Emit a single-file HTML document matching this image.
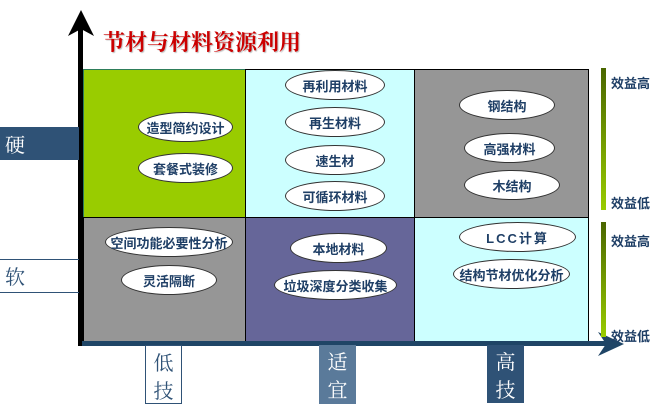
<!DOCTYPE html>
<html><head><meta charset="utf-8"><style>
html,body{margin:0;padding:0;background:#fff;width:665px;height:413px;overflow:hidden;position:relative;font-family:"Liberation Sans","Noto Sans CJK SC",sans-serif}
div{position:absolute;box-sizing:border-box}
.c{border:1px solid #000}
.e{background:#fff;border:1.5px solid #333;border-radius:50%;color:#1f3f66;font-weight:bold;font-size:13px;display:flex;align-items:center;justify-content:center;white-space:nowrap;height:30px}
.bl{font-family:"Noto Serif CJK SC",serif;font-size:20px;line-height:28px;text-align:center}
.r{color:#1f3f66;font-weight:bold;font-size:13px;left:611px}
</style></head><body>
<div class="c" style="left:83px;top:69px;width:163px;height:149px;background:#99cc00;border-color:#2e7d5a"></div>
<div class="c" style="left:245px;top:69px;width:170px;height:149px;background:#ccffff"></div>
<div class="c" style="left:414px;top:69px;width:175px;height:149px;background:#969696"></div>
<div class="c" style="left:83px;top:217px;width:163px;height:126px;background:#969696"></div>
<div class="c" style="left:245px;top:217px;width:170px;height:126px;background:#666699"></div>
<div class="c" style="left:414px;top:217px;width:175px;height:126px;background:#ccffff"></div>

<div style="left:78px;top:28px;width:5px;height:318px;background:#000"></div>
<svg style="position:absolute;left:68px;top:10px" width="26" height="30"><polygon points="13,0 26,26 13,19 0,26" fill="#000"/></svg>
<div style="left:82px;top:341px;width:525px;height:5px;background:#1f4566"></div>
<svg style="position:absolute;left:598px;top:332px" width="26" height="24"><polygon points="26,12 0,0 8,12 0,24" fill="#1f4566"/></svg>

<div style="left:103px;top:27px;color:#cc0000;font-size:22px;font-family:'Noto Serif CJK SC',serif;font-weight:bold;text-shadow:1px 1px 1px #bbb;white-space:nowrap;line-height:30px">节材与材料资源利用</div>

<div class="e" style="left:138px;top:112px;width:95px">造型简约设计</div>
<div class="e" style="left:138px;top:153px;width:95px">套餐式装修</div>
<div class="e" style="left:285px;top:70px;width:100px">再利用材料</div>
<div class="e" style="left:285px;top:107px;width:100px">再生材料</div>
<div class="e" style="left:285px;top:145px;width:100px">速生材</div>
<div class="e" style="left:285px;top:181px;width:100px">可循环材料</div>
<div class="e" style="left:459px;top:90px;width:96px">钢结构</div>
<div class="e" style="left:464px;top:133px;width:91px">高强材料</div>
<div class="e" style="left:464px;top:170px;width:96px">木结构</div>
<div class="e" style="left:105px;top:227px;width:128px">空间功能必要性分析</div>
<div class="e" style="left:121px;top:265px;width:96px">灵活隔断</div>
<div class="e" style="left:290px;top:233px;width:97px">本地材料</div>
<div class="e" style="left:274px;top:270px;width:123px">垃圾深度分类收集</div>
<div class="e" style="left:459px;top:222px;width:117px;letter-spacing:2px">LCC计算</div>
<div class="e" style="left:453px;top:259px;width:117px">结构节材优化分析</div>

<div class="bl" style="left:0;top:127px;width:79px;height:33px;background:#2f5276;color:#fff;text-align:left;padding-left:5px;line-height:33px">硬</div>
<div class="bl" style="left:0;top:259px;width:79px;height:34px;border-top:1.5px solid #2f5276;border-bottom:1.5px solid #2f5276;color:#2f5276;text-align:left;padding-left:5px;line-height:31px">软</div>
<div class="bl" style="left:145px;top:345px;width:37px;height:59px;border:1.5px solid #2f5276;color:#2f5276;padding-top:2px">低<br>技</div>
<div class="bl" style="left:319px;top:345px;width:37px;height:59px;background:#5a7a9a;color:#fff;padding-top:2px">适<br>宜</div>
<div class="bl" style="left:487px;top:345px;width:37px;height:58px;background:#2f5276;color:#fff;padding-top:2px">高<br>技</div>

<div style="left:601px;top:68px;width:5px;height:142px;background:linear-gradient(#4a6600,#99cc00)"></div>
<div style="left:601px;top:222px;width:5px;height:115px;background:linear-gradient(#4a6600,#99cc00)"></div>
<div class="r" style="top:73px">效益高</div>
<div class="r" style="top:193px">效益低</div>
<div class="r" style="top:231px">效益高</div>
<div class="r" style="top:326px">效益低</div>
</body></html>
